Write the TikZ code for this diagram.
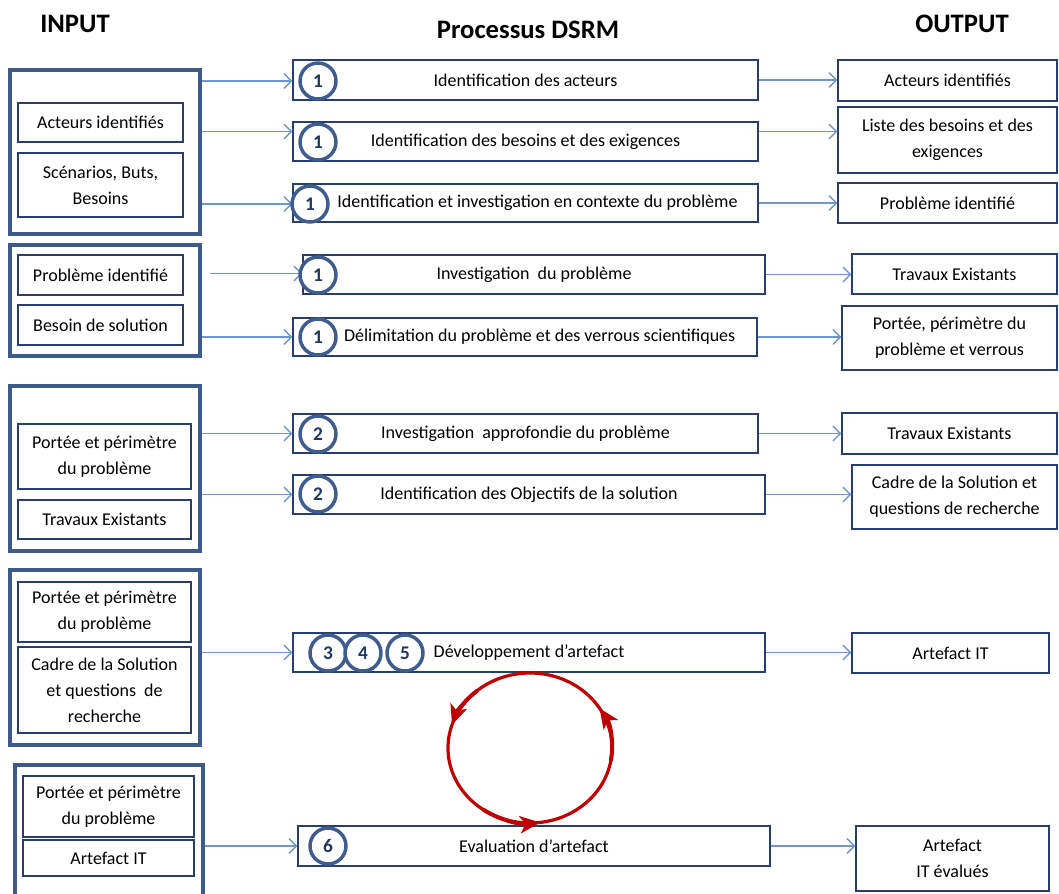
\documentclass[tikz,border=0pt]{standalone}
\usepackage{fontspec}
\setmainfont{Carlito}
\usetikzlibrary{arrows.meta,calc}

\definecolor{boxline}{RGB}{40,62,110}
\definecolor{outerline}{RGB}{62,90,138}
\definecolor{arrowblue}{RGB}{112,150,204}
\definecolor{numblue}{RGB}{31,56,100}
\definecolor{circline}{RGB}{62,92,142}
\definecolor{cyclered}{RGB}{192,0,0}

\tikzset{
  box/.style={draw=boxline, line width=1.1pt, fill=white, align=center, inner sep=0pt,
    font=\fontsize{13.5}{19.5}\selectfont},
  outerbox/.style={draw=outerline, line width=3pt, inner sep=0pt},
  num/.style={circle, draw=circline, line width=2.6pt, fill=white, minimum size=27pt,
    inner sep=0pt, font=\fontsize{14.5}{16}\selectfont\bfseries, text=numblue},
  flow/.style={draw=arrowblue, line width=1pt, -{Straight Barb[length=5.5pt,width=11pt]}},
  head/.style={font=\fontsize{20}{24}\selectfont\bfseries, inner sep=0pt},
  loopline/.style={draw=cyclered, line width=2.4pt},
  looptip/.style={draw=cyclered, line width=3pt, -{Stealth[length=15pt,width=13pt,inset=4pt]}},
}

% rectangle node given by its corners (x1,y1) (x2,y2), in pixel-like units
\newcommand\rbox[7][box]{%
  \node[#1, minimum width={(#4-#2)*0.75pt}, minimum height={(#5-#3)*0.75pt}]
    (#6) at ({(#2+#4)/2},{(#3+#5)/2}) {#7};}

\begin{document}
\begin{tikzpicture}[x=0.75pt,y=-0.75pt]
\useasboundingbox[fill=white] (0,0) rectangle (1059,893);

% column headings
\node[head] (hin)  at (75,24)  {INPUT};
\node[head] (hpro) at (528,30) {Processus DSRM};
\node[head] (hout) at (962,24) {OUTPUT};

% ---------- input groups ----------
\rbox[outerbox]{10}{70}{200}{234}{in1}{}
\rbox{18}{103}{183}{142}{in1a}{Acteurs identifiés}
\rbox{18}{153}{183}{217}{in1b}{Scénarios, Buts,\\Besoins}

\rbox[outerbox]{10}{245}{200}{356}{in2}{}
\rbox{18}{255}{183}{295}{in2a}{Problème identifié}
\rbox{18}{305}{183}{345}{in2b}{Besoin de solution}

\rbox[outerbox]{10}{386}{200}{551}{in3}{}
\rbox{18}{424}{191}{489}{in3a}{Portée et périmètre\\du problème}
\rbox{18}{500}{191}{539}{in3b}{Travaux Existants}

\rbox[outerbox]{10}{570}{200}{745}{in4}{}
\rbox{18}{582}{191}{642}{in4a}{Portée et périmètre\\du problème}
\rbox{18}{647}{191}{733}{in4b}{Cadre de la Solution\\et questions\ \ de\\recherche}

\rbox[outerbox]{15}{765}{203}{920}{in5}{}
\rbox{23}{776}{194}{837}{in5a}{Portée et périmètre\\du problème}
\rbox{23}{840}{194}{876}{in5b}{Artefact IT}

% ---------- DSRM process steps ----------
\rbox{293}{60}{758}{100}{p1}{Identification des acteurs}
\rbox{293}{122}{758}{161}{p2}{Identification des besoins et des exigences}
\rbox{293}{184}{758}{222}{p3}{\hspace*{18pt}Identification et investigation en contexte du problème}
\rbox{303}{255}{765}{294}{p4}{Investigation\ \ du problème}
\rbox{293}{318}{757}{356}{p5}{\hspace*{22pt}Délimitation du problème et des verrous scientifiques}
\rbox{293}{414}{758}{453}{p6}{Investigation\ \ approfondie du problème}
\rbox{293}{475}{765}{514}{p7}{Identification des Objectifs de la solution}
\rbox{293}{633}{765}{672}{p8}{Développement d’artefact}
\rbox{298}{826}{770}{866}{p9}{Evaluation d’artefact}

% ---------- outputs ----------
\rbox{838}{60}{1057}{101}{o1}{Acteurs identifiés}
\rbox{838}{107}{1057}{173}{o2}{Liste des besoins et des\\exigences}
\rbox{838}{183}{1057}{223}{o3}{Problème identifié}
\rbox{852}{254}{1057}{294}{o4}{Travaux Existants}
\rbox{842}{306}{1057}{370}{o5}{Portée, périmètre du\\problème et verrous}
\rbox{842}{413}{1057}{454}{o6}{Travaux Existants}
\rbox{852}{465}{1057}{529}{o7}{Cadre de la Solution et\\questions de recherche}
\rbox{852}{633}{1049}{673}{o8}{Artefact IT}
\rbox{856}{826}{1049}{891}{o9}{Artefact\\IT évalués}

% ---------- connectors input -> process ----------
\draw[flow] ($(in1.east |- p1.west)+(0,1)$) -- ($(p1.west)+(0,1)$);
\draw[flow] ($(in1.east |- p2.west)+(0,-10)$) -- ($(p2.west)+(0,-10)$);
\draw[flow] ($(in1.east |- p3.west)+(0,1)$) -- ($(p3.west)+(0,1)$);
\draw[flow] ($(in2.east |- p4.west)+(8,-1)$) -- ($(p4.west)+(0,-1)$);
\draw[flow] (in2.east |- p5.west) -- (p5.west);
\draw[flow] (in3.east |- p6.west) -- (p6.west);
\draw[flow] (in3.east |- p7.west) -- (p7.west);
\draw[flow] (in4.east |- p8.west) -- (p8.west);
\draw[flow] (in5.east |- p9.west) -- (p9.west);

% ---------- connectors process -> output ----------
\draw[flow] (p1.east) -- (o1.west |- p1.east);
\draw[flow] ($(p2.east)+(0,-10)$) -- ($(o2.west |- p2.east)+(0,-10)$);
\draw[flow] (p3.east) -- (o3.west |- p3.east);
\draw[flow] (p4.east) -- (o4.west |- p4.east);
\draw[flow] (p5.east) -- (o5.west |- p5.east);
\draw[flow] (p6.east) -- (o6.west |- p6.east);
\draw[flow] (p7.east) -- (o7.west |- p7.east);
\draw[flow] (p8.east) -- (o8.west |- p8.east);
\draw[flow] (p9.east) -- (o9.west |- p9.east);

% ---------- step numbers ----------
\node[num] (n1) at (318,81)  {1};
\node[num] (n2) at (318,142) {1};
\node[num] (n3) at (310,204) {1};
\node[num] (n4) at (318,275) {1};
\node[num] (n5) at (318,337) {1};
\node[num] (n6) at (318,434) {2};
\node[num] (n7) at (318,494) {2};
\node[num] (n8a) at (328,653) {3};
\node[num] (n8b) at (363,653) {4};
\node[num] (n8c) at (405,653) {5};
\node[num] (n9) at (328,846) {6};

% ---------- build / evaluate loop ----------
\coordinate (lc) at (530,748);
\draw[loopline] (lc) ellipse[x radius=82, y radius=75];
\draw[looptip] ($(lc)+(230:82 and 75)$) arc[start angle=230, end angle=198, x radius=82, y radius=75];
\draw[looptip] ($(lc)+(10:82 and 75)$) arc[start angle=10, end angle=-32, x radius=82, y radius=75];
\draw[looptip] ($(lc)+(125:82 and 75)$) arc[start angle=125, end angle=83, x radius=82, y radius=75];
\end{tikzpicture}
\end{document}
